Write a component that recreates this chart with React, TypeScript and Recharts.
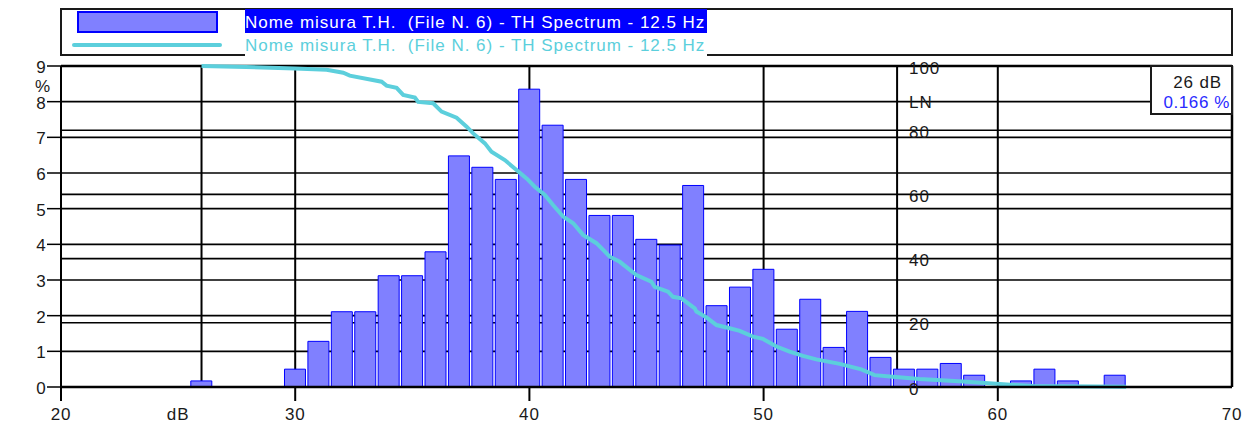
import React from "react";
import {
  ComposedChart,
  Bar,
  Line,
  XAxis,
  YAxis,
  CartesianGrid,
  Legend,
  ReferenceDot,
} from "recharts";

const FONT = '"Liberation Sans", Arial, sans-serif';
const SERIES_NAME = "Nome misura T.H.  (File N. 6) - TH Spectrum - 12.5 Hz";
const BAR_FILL = "#8080ff";
const BAR_STROKE = "#0000ff";
const LINE_COLOR = "#5ccfdc";

// level histogram (dB bins, % of time)
const BIN_DB = [
  26, 30, 31, 32, 33, 34, 35, 36, 37, 38, 39, 40, 41, 42, 43, 44, 45, 46, 47,
  48, 49, 50, 51, 52, 53, 54, 55, 56, 57, 58, 59, 61, 62, 63, 65,
];
const BIN_PCT = [
  0.17, 0.5, 1.28, 2.11, 2.11, 3.12, 3.12, 3.79, 6.48, 6.16, 5.82, 8.35, 7.34,
  5.82, 4.81, 4.81, 4.14, 3.98, 5.65, 2.28, 2.8, 3.3, 1.62, 2.46, 1.11, 2.12,
  0.83, 0.5, 0.5, 0.66, 0.33, 0.17, 0.5, 0.17, 0.33,
];

// cumulative LN curve
const CURVE_DB = [
  26.0, 27.9, 29.99, 31.34, 32.05, 32.33, 33.69, 33.9, 34.33, 34.61, 35.11,
  35.25, 35.89, 36.25, 36.89, 37.32, 37.6, 38.1, 38.38, 38.95, 39.45, 39.88,
  40.23, 40.66, 41.01, 41.44, 41.87, 42.29, 42.86, 43.15, 43.43, 43.86, 44.57,
  45.21, 45.35, 45.92, 46.13, 46.49, 47.06, 47.13, 47.56, 47.99, 48.55, 48.98,
  49.55, 49.97, 50.55, 51.11, 51.68, 52.25, 53.25, 54.17, 54.74, 55.52, 56.66,
  58.51, 60.08, 61.5, 65.48,
];
const CURVE_LN = [
  100, 99.7, 99.2, 98.8, 97.9, 97.0, 95.1, 93.9, 93.2, 91.0, 90.2, 88.8, 88.4,
  85.8, 83.9, 81.1, 79.0, 75.9, 73.3, 70.7, 67.6, 65.0, 62.4, 59.8, 56.7, 53.1,
  51.0, 47.4, 44.8, 42.7, 40.6, 39.0, 34.9, 32.8, 31.2, 29.7, 28.1, 27.6, 24.5,
  23.5, 21.7, 19.3, 18.3, 17.5, 15.7, 15.0, 12.6, 11.0, 9.7, 8.6, 7.2, 5.5,
  3.7, 3.2, 2.5, 1.7, 0.9, 0.3, 0.1,
];

const X_TICKS = [20, 30, 40, 50, 60, 70];
const LEFT_TICKS = [0, 1, 2, 3, 4, 5, 6, 7, 8, 9];
const LEFT_GRID = [1, 2, 3, 4, 5, 6, 7, 8];
const RIGHT_TICKS = [0, 20, 40, 60, 80, 100];
const RIGHT_GRID = [20, 40, 60, 80];
const V_GRID = [26, 30, 40, 50, 60];
const RIGHT_AXIS_AT = 55.7; // LN axis drawn inside the plot
const LN_LABEL_AT = 89.4;

const CURSOR_DB = "26 dB";
const CURSOR_PCT = "0.166 %";

const barData = BIN_DB.map((db, i) => ({ db, pct: BIN_PCT[i] }));
const curveData = CURVE_DB.map((db, i) => ({ db, ln: CURVE_LN[i] }));

const textStyle = { fontFamily: FONT, fontSize: 17, letterSpacing: 0.85 };

const XTick = (props: any) => {
  const { x, y, payload } = props;
  return (
    <g>
      {payload.value !== 70 && (
        <line x1={x} y1={y} x2={x} y2={y + 14} stroke="#000" strokeWidth={2} />
      )}
      <text x={x} y={y + 33} textAnchor="middle" fill="#1a1a1a" style={textStyle}>
        {payload.value}
      </text>
    </g>
  );
};

const LeftTick = (props: any) => {
  const { x, y, payload } = props;
  return (
    <g>
      <line x1={x - 14} y1={y} x2={x} y2={y} stroke="#000" strokeWidth={1.5} />
      <text
        x={x - 14.5}
        y={y + 1.5}
        textAnchor="end"
        dominantBaseline="central"
        fill="#1a1a1a"
        style={textStyle}
      >
        {payload.value}
      </text>
      {payload.value === 9 && (
        <text
          x={x - 18}
          y={y + 20.5}
          textAnchor="middle"
          dominantBaseline="central"
          fill="#1a1a1a"
          style={textStyle}
        >
          %
        </text>
      )}
    </g>
  );
};

const sideLabel = (text: string) => (props: any) => {
  const vb = props.viewBox || {};
  return (
    <text
      x={vb.x + 12}
      y={vb.y + 2}
      dominantBaseline="central"
      fill="#1a1a1a"
      style={textStyle}
    >
      {text}
    </text>
  );
};

const unitLabel = (props: any) => {
  const vb = props.viewBox || {};
  return (
    <text x={vb.x} y={vb.y + 33} textAnchor="middle" fill="#1a1a1a" style={textStyle}>
      dB
    </text>
  );
};

const ChartLegend = () => (
  <div style={{ position: "relative", width: 1252, height: 66, ...textStyle, letterSpacing: 0.98 }}>
    <div
      style={{
        position: "absolute",
        left: 60,
        top: 8,
        width: 1173,
        height: 48,
        border: "2px solid #1a1a1a",
        boxSizing: "border-box",
      }}
    />
    <div
      style={{
        position: "absolute",
        left: 77,
        top: 11,
        width: 141,
        height: 22,
        background: BAR_FILL,
        border: `2px solid ${BAR_STROKE}`,
        boxSizing: "border-box",
      }}
    />
    <svg style={{ position: "absolute", left: 0, top: 0 }} width={240} height={60}>
      <line x1={74} y1={45} x2={220} y2={45} stroke={LINE_COLOR} strokeWidth={4} strokeLinecap="round" />
    </svg>
    <div
      style={{
        position: "absolute",
        left: 245,
        top: 9,
        width: 462,
        height: 24,
        lineHeight: "27px",
        background: "#0000ff",
        color: "#fff",
        whiteSpace: "pre",
      }}
    >
      {SERIES_NAME}
    </div>
    <div
      style={{
        position: "absolute",
        left: 245,
        top: 34,
        width: 462,
        height: 23,
        lineHeight: "23px",
        background: "#fff",
        color: LINE_COLOR,
        whiteSpace: "pre",
      }}
    >
      {SERIES_NAME}
    </div>
  </div>
);

export default function App() {
  return (
    <div style={{ position: "absolute", left: 0, top: 0, width: 1252, height: 425, background: "#fff" }}>
      <ComposedChart
        width={1252}
        height={425}
        data={barData}
        margin={{ top: 0, right: 20, bottom: 0, left: 0 }}
      >
        <Legend
          verticalAlign="top"
          align="left"
          layout="horizontal"
          wrapperStyle={{ top: 0, left: 0, width: 1252, height: 66 }}
          content={<ChartLegend />}
        />
        <CartesianGrid
          yAxisId="left"
          horizontalValues={LEFT_GRID}
          vertical={false}
          stroke="#000"
          strokeWidth={1.6}
        />
        <CartesianGrid
          yAxisId="right"
          horizontalValues={RIGHT_GRID}
          vertical={false}
          stroke="#000"
          strokeWidth={1.6}
        />
        <CartesianGrid
          yAxisId="left"
          horizontal={false}
          verticalValues={[...V_GRID, RIGHT_AXIS_AT]}
          stroke="#000"
          strokeWidth={2}
        />
        <CartesianGrid
          yAxisId="left"
          horizontalValues={[9]}
          verticalValues={[70]}
          stroke="#000"
          strokeWidth={2.5}
        />
        <XAxis
          dataKey="db"
          type="number"
          domain={[20, 70]}
          ticks={X_TICKS}
          interval={0}
          height={38}
          tickSize={0}
          tickMargin={0}
          tickLine={false}
          axisLine={{ stroke: "#000", strokeWidth: 2.5 }}
          tick={<XTick />}
        />
        <XAxis xAxisId="bins" dataKey="db" type="number" domain={[20, 70]} hide />
        <YAxis
          yAxisId="left"
          domain={[0, 9]}
          ticks={LEFT_TICKS}
          interval={0}
          width={61}
          tickSize={0}
          tickMargin={0}
          tickLine={false}
          axisLine={{ stroke: "#000", strokeWidth: 2 }}
          tick={<LeftTick />}
        />
        <YAxis yAxisId="right" orientation="right" domain={[0, 100]} ticks={RIGHT_TICKS} interval={0} hide />
        <Bar
          xAxisId="bins"
          yAxisId="left"
          dataKey="pct"
          name={SERIES_NAME}
          barSize={21}
          fill={BAR_FILL}
          stroke={BAR_STROKE}
          strokeWidth={1}
          isAnimationActive={false}
        />
        <Line
          yAxisId="right"
          data={curveData}
          dataKey="ln"
          name={SERIES_NAME}
          type="linear"
          stroke={LINE_COLOR}
          strokeWidth={4}
          dot={false}
          activeDot={false}
          isAnimationActive={false}
        />
        {RIGHT_TICKS.map((v) => (
          <ReferenceDot
            key={v}
            yAxisId="right"
            x={RIGHT_AXIS_AT}
            y={v}
            r={0}
            fill="none"
            stroke="none"
            label={sideLabel(String(v))}
          />
        ))}
        <ReferenceDot
          yAxisId="right"
          x={RIGHT_AXIS_AT}
          y={LN_LABEL_AT}
          r={0}
          fill="none"
          stroke="none"
          label={sideLabel("LN")}
        />
        <ReferenceDot
          yAxisId="left"
          x={25}
          y={0}
          r={0}
          fill="none"
          stroke="none"
          label={unitLabel}
        />
      </ComposedChart>
      <div
        style={{
          position: "absolute",
          left: 1150,
          top: 65,
          width: 83,
          height: 50,
          border: "2px solid #1a1a1a",
          boxSizing: "border-box",
          background: "#fff",
          zIndex: 2,
          ...textStyle,
        }}
      >
        <span style={{ position: "absolute", right: 9, top: 6, lineHeight: "19px", color: "#1a1a1a", whiteSpace: "pre" }}>
          {CURSOR_DB}
        </span>
        <span style={{ position: "absolute", right: 1, top: 26, lineHeight: "19px", color: "#2a2aff", whiteSpace: "pre", letterSpacing: 0.6 }}>
          {CURSOR_PCT}
        </span>
      </div>
    </div>
  );
}
